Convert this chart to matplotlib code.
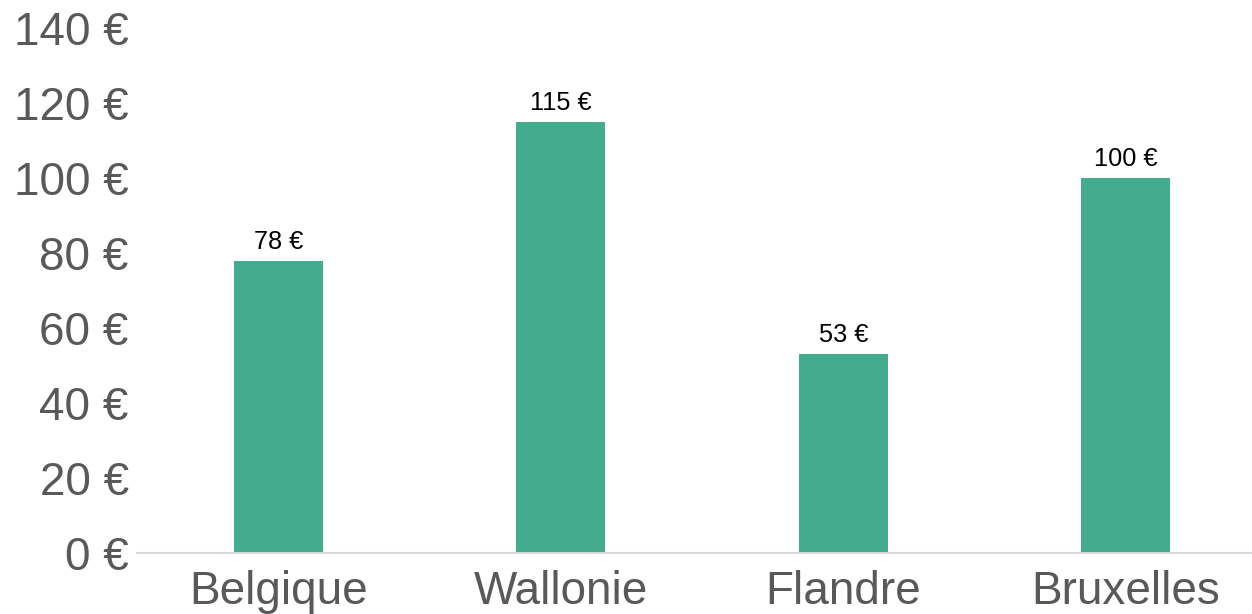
import matplotlib.pyplot as plt

regions = ["Belgique", "Wallonie", "Flandre", "Bruxelles"]
amounts = [78, 115, 53, 100]
y_ticks = [0, 20, 40, 60, 80, 100, 120, 140]

BAR_COLOR = "#44ab8e"
TEXT_GREY = "#595959"

plt.rcParams["font.family"] = ["Liberation Sans", "DejaVu Sans"]


def main():
    fig = plt.figure(figsize=(12.52, 6.14), dpi=100)
    # plot area runs slightly past the right edge, as in the original
    ax = fig.add_axes([137 / 1252, 61 / 614, 1130 / 1252, (553 - 28) / 614])

    x = range(len(regions))
    bars = ax.bar(x, amounts, width=0.315, color=BAR_COLOR)
    for bar, val in zip(bars, amounts):
        ax.annotate(f"{val} €", (bar.get_x() + bar.get_width() / 2, val),
                    xytext=(0, 5), textcoords="offset points",
                    ha="center", va="bottom", fontsize=18.3, color="black")

    ax.set_xlim(-0.5, len(regions) - 0.5)
    ax.set_ylim(0, 140)
    ax.set_xticks(list(x))
    ax.set_xticklabels(regions)
    ax.set_yticks(y_ticks)
    ax.set_yticklabels([f"{v} €" for v in y_ticks])
    ax.tick_params(axis="both", length=0, labelsize=33, labelcolor=TEXT_GREY)
    ax.tick_params(axis="y", pad=6)
    ax.tick_params(axis="x", pad=12)

    for side in ["top", "right", "left"]:
        ax.spines[side].set_visible(False)
    ax.spines["bottom"].set_color("#d9d9d9")
    ax.spines["bottom"].set_linewidth(1.5)

    fig.savefig("out.png", dpi=100)


if __name__ == "__main__":
    main()
